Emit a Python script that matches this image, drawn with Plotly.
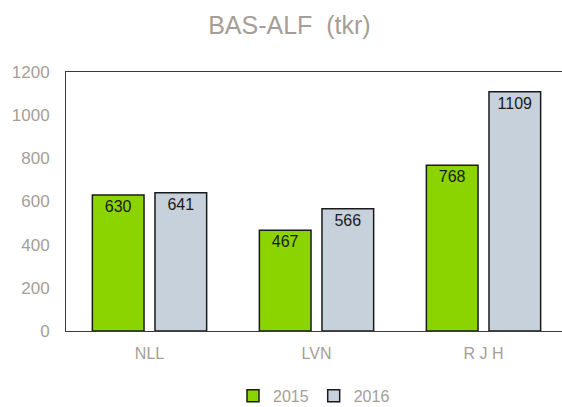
import plotly.graph_objects as go

categories = ["NLL", "LVN", "R J H"]
values_2015 = [630, 467, 768]
values_2016 = [641, 566, 1109]
series_names = ["2015", "2016"]
y_ticks = [0, 200, 400, 600, 800, 1000, 1200]

gray = "#a69e96"
fig = go.Figure()
fig.add_trace(go.Bar(
    name=series_names[0], x=categories, y=values_2015,
    marker=dict(color="#8cd400", line=dict(color="#1a1a1a", width=1.5)),
    text=[str(v) for v in values_2015], textposition="inside", insidetextanchor="end",
    textfont=dict(color="#1a1a1a", size=16, family="Liberation Sans, Arial"),
    textangle=0,
))
fig.add_trace(go.Bar(
    name=series_names[1], x=categories, y=values_2016,
    marker=dict(color="#c6d1dc", line=dict(color="#1a1a1a", width=1.5)),
    text=[str(v) for v in values_2016], textposition="inside", insidetextanchor="end",
    textfont=dict(color="#1a1a1a", size=16, family="Liberation Sans, Arial"),
    textangle=0,
))

fig.update_layout(
    width=562, height=407,
    margin=dict(l=66, r=0, t=72, b=76, autoexpand=False),
    paper_bgcolor="white", plot_bgcolor="white",
    barmode="group", bargap=0.25, bargroupgap=0.175,
    title=dict(text="BAS-ALF&nbsp;&nbsp;(tkr)", x=0.515, xanchor="center", y=0.938, yanchor="middle",
               font=dict(family="Liberation Sans, Arial", size=25, color=gray)),
    font=dict(family="Liberation Sans, Arial", color=gray, size=16),
    showlegend=True,
    legend=dict(orientation="h", x=0.5, xanchor="center", yref="paper", y=-0.25, yanchor="middle",
                font=dict(size=16, color=gray), itemwidth=30, traceorder="normal"),
    uniformtext=dict(mode="show", minsize=10),
)
fig.update_xaxes(
    range=[-0.5, 2.47], showline=True, linecolor="#3a3a3a", linewidth=1, mirror=True,
    showgrid=False, ticks="", tickfont=dict(size=16, color=gray), ticklabelstandoff=8,
)
fig.update_yaxes(
    range=[0, 1200], tickvals=y_ticks, showline=True, linecolor="#3a3a3a", linewidth=1,
    showgrid=False, zeroline=False, ticks="", tickfont=dict(size=17, color=gray), ticklabelstandoff=12,
)

fig.write_html("out.html", config={"displayModeBar": False},
               post_script="document.body.style.margin='0';document.body.style.overflow='hidden';")
